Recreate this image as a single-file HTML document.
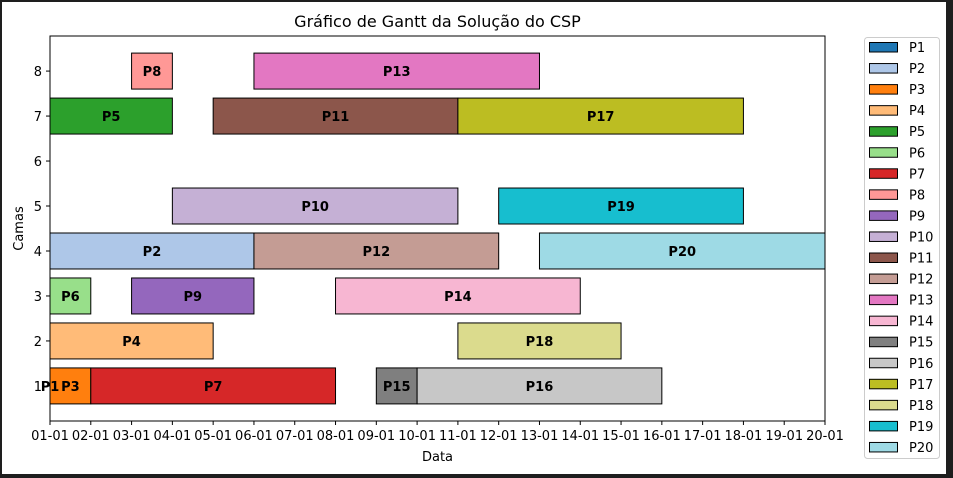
<!DOCTYPE html>
<html><head><meta charset="utf-8"><style>
html,body{margin:0;padding:0;background:#1e1e1e;}
body{width:953px;height:478px;overflow:hidden;position:relative;font-family:"Liberation Sans","DejaVu Sans",sans-serif;}
#frame{position:absolute;left:2px;top:2px;width:944px;height:472px;background:#fff;}
svg{position:absolute;left:0;top:0;}
text{font-family:"DejaVu Sans","Liberation Sans",sans-serif;}
</style></head><body>
<div id="frame"></div>
<svg id="chart" width="953" height="478"></svg>
<script>
const tasks = ["P1","P2","P3","P4","P5","P6","P7","P8","P9","P10","P11","P12","P13","P14","P15","P16","P17","P18","P19","P20"];
const beds = [1,4,1,2,7,3,1,8,3,5,7,4,8,3,1,1,7,2,5,4];
const startDay = [0,0,0,0,0,0,1,2,2,3,4,5,5,7,8,9,10,10,11,12];
const endDay = [0,5,1,4,3,1,7,3,5,10,10,11,12,13,9,15,17,14,17,19];
const colors = ["#1f77b4","#aec7e8","#ff7f0e","#ffbb78","#2ca02c","#98df8a","#d62728","#ff9896","#9467bd","#c5b0d5","#8c564b","#c49c94","#e377c2","#f7b6d2","#7f7f7f","#c7c7c7","#bcbd22","#dbdb8d","#17becf","#9edae5"];
const xTickLabels = ["01-01","02-01","03-01","04-01","05-01","06-01","07-01","08-01","09-01","10-01","11-01","12-01","13-01","14-01","15-01","16-01","17-01","18-01","19-01","20-01"];
const yTicks = [1,2,3,4,5,6,7,8];

const NS="http://www.w3.org/2000/svg";
const svg=document.getElementById('chart');
const L=50,R=825,T=36,B=421;
const xs=d=>L+d*(R-L)/19;
const ys=v=>B-(v-0.22)*(B-T)/(8.78-0.22);
const pxPerUnit=(B-T)/(8.78-0.22);
function mk(tag,attrs,txt){const e=document.createElementNS(NS,tag);for(const k in attrs)e.setAttribute(k,attrs[k]);if(txt!==undefined)e.textContent=txt;svg.appendChild(e);return e;}

let bg=mk('rect',{x:L,y:T,width:R-L,height:B-T,fill:'#fff'});



tasks.forEach((t,i)=>{
  const x0=xs(startDay[i]),x1=xs(endDay[i]),yc=ys(beds[i]),h=0.8*pxPerUnit;
  const r=mk('rect',{x:x0,y:yc-h/2,width:Math.max(0,x1-x0),height:h,fill:colors[i],stroke:'#000','stroke-width':1});
  
  
});
tasks.forEach((t,i)=>{
  const tx=mk('text',{x:(xs(startDay[i])+xs(endDay[i]))/2,y:ys(beds[i])+5,'text-anchor':'middle','font-size':13,'font-weight':'bold',fill:'#000'},t);
  
  
});

let ax=mk('rect',{x:L,y:T,width:R-L,height:B-T,fill:'none',stroke:'#000','stroke-width':1});



xTickLabels.forEach((lab,i)=>{
  const x=xs(i);
  const tk=mk('line',{x1:x,x2:x,y1:B,y2:B+4,stroke:'#000'});
  
  
  const tl=mk('text',{x:x,y:B+19,'text-anchor':'middle','font-size':13,fill:'#000'},lab);
  
  
});
yTicks.forEach(v=>{
  const y=ys(v);
  const tk=mk('line',{x1:L-4,x2:L,y1:y,y2:y,stroke:'#000'});
  
  
  const tl=mk('text',{x:L-8,y:y+5,'text-anchor':'end','font-size':13,fill:'#000'},String(v));
  
  
});

let title=mk('text',{x:(L+R)/2,y:27,'text-anchor':'middle','font-size':16,fill:'#000'},'Gráfico de Gantt da Solução do CSP');


let xt=mk('text',{x:(L+R)/2,y:461,'text-anchor':'middle','font-size':13,fill:'#000'},'Data');


let yt=mk('text',{x:23,y:(T+B)/2,'text-anchor':'middle','font-size':13,fill:'#000',transform:'rotate(-90 23 '+((T+B)/2)+')'},'Camas');



let lg=mk('rect',{x:864.5,y:37.5,width:75,height:421,rx:3,fill:'#fff',stroke:'#ccc'});


tasks.forEach((t,i)=>{
  const y=47+i*21.05;
  const sw=mk('rect',{x:869.5,y:y-4.5,width:28,height:9.5,fill:colors[i],stroke:'#000'});
  
  
  const lt=mk('text',{x:909,y:y+5,'font-size':13,fill:'#000'},t);
  
  
});
</script>
</body></html>
